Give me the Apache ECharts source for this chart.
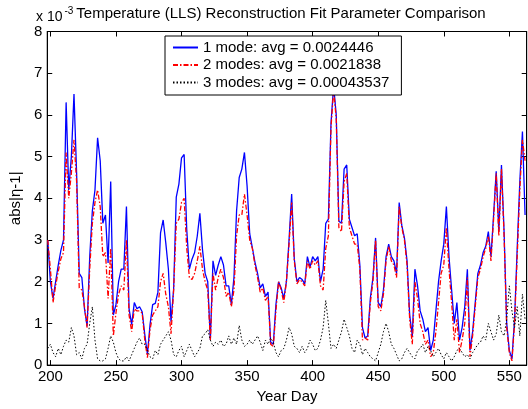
<!DOCTYPE html>
<html>
<head>
<meta charset="utf-8">
<script src="https://cdn.jsdelivr.net/npm/echarts@6/dist/echarts.min.js"></script>
<style>
html,body{margin:0;padding:0;background:#fff;}
#chart{width:528px;height:409px;}
</style>
</head>
<body>
<div id="chart"></div>
<script>
// Year day sample points
const days = [
198,200,202,204,206,208,210,212,214,216,
218,220,222,224,226,228,230,232,234,236,
238,240,242,244,246,248,250,252,254,256,
258,260,262,264,266,268,270,272,274,276,
278,280,282,284,286,288,290,292,294,296,
298,300,302,304,306,308,310,312,314,316,
318,320,322,324,326,328,330,332,334,336,
338,340,342,344,346,348,350,352,354,356,
358,360,362,364,366,368,370,372,374,376,
378,380,382,384,386,388,390,392,394,396,
398,400,402,404,406,408,410,412,414,416,
418,420,422,424,426,428,430,432,434,436,
438,440,442,444,446,448,450,452,454,456,
458,460,462,464,466,468,470,472,474,476,
478,480,482,484,486,488,490,492,494,496,
498,500,502,504,506,508,510,512,514,516,
518,520,522,524,526,528,530,532,534,536,
538,540,542,544,546,548,550,552,554,556,
558,560,562
];
// abs|eta-1| in units of 1e-3
const mode1 = [
3.0,2.0,1.6,2.0,2.4,2.75,3.0,6.3,4.2,5.0,
6.5,4.6,2.2,2.1,1.35,0.93,2.6,3.7,4.2,5.45,
4.9,3.4,3.6,2.45,4.4,1.2,1.45,2.0,2.3,2.3,
3.8,1.35,0.97,1.5,1.35,1.4,1.28,0.73,0.26,0.97,
1.45,1.48,1.75,3.17,3.48,2.93,2.3,1.04,1.83,4.03,
4.34,4.97,5.05,3.24,2.3,2.54,2.7,3.09,3.64,2.77,
2.2,2.0,0.6,2.5,2.15,2.4,2.6,2.4,1.9,1.9,
1.45,2.1,3.7,4.5,4.7,5.1,4.3,3.15,2.82,2.47,
2.2,1.85,1.95,1.65,1.75,0.55,0.5,1.45,2.0,1.85,
1.6,2.0,3.0,4.1,2.55,2.0,2.1,2.05,1.95,2.6,
2.35,2.6,2.5,2.6,2.0,2.3,3.4,3.5,5.8,6.7,
6.0,3.45,3.4,4.7,4.8,3.5,3.3,3.1,3.15,2.4,
0.9,0.65,0.7,1.6,2.1,3.05,1.5,1.4,1.8,2.6,
2.9,2.6,2.5,2.2,3.9,3.35,3.05,2.5,1.2,0.7,
2.3,1.9,1.3,1.1,0.8,0.9,0.35,0.6,1.3,2.0,
2.5,2.9,3.8,2.6,1.8,1.0,1.5,0.6,0.9,1.4,
2.3,0.35,0.8,1.5,2.2,2.4,2.7,2.85,3.2,2.6,
3.6,4.65,3.2,4.8,3.2,1.0,0.35,0.15,1.1,2.8,
4.4,5.6,3.6
];
const mode2 = [
3.0,2.3,1.5,1.9,2.25,2.55,2.7,5.1,4.0,4.6,
5.4,4.4,1.85,1.8,1.4,0.9,2.3,3.4,3.9,4.2,
3.8,2.6,2.7,1.6,2.8,0.7,1.25,1.7,1.9,1.8,
3.0,1.2,0.8,1.35,1.3,1.3,1.25,0.6,0.18,0.85,
1.2,1.3,1.4,2.0,2.2,1.7,1.4,0.75,1.8,3.4,
3.5,3.9,4.0,2.8,2.1,2.05,2.2,2.5,2.85,2.3,
2.0,1.8,0.6,2.2,1.8,2.1,2.3,2.1,1.65,1.75,
1.4,1.8,3.1,3.6,3.6,4.1,3.6,3.0,2.8,2.4,
2.1,1.75,1.85,1.55,1.65,0.5,0.45,1.3,2.0,1.8,
1.5,2.0,2.9,3.9,2.5,1.95,2.05,2.0,1.9,2.5,
2.3,2.5,2.4,2.5,1.9,1.8,2.8,3.1,5.7,6.6,
5.9,3.3,3.2,4.4,4.6,3.3,3.1,2.9,2.9,2.3,
0.6,0.65,0.6,1.5,2.0,3.0,1.4,1.3,1.7,2.5,
2.85,2.5,2.4,2.1,3.8,3.3,3.0,2.4,1.1,0.5,
2.0,1.6,1.0,0.8,0.5,0.6,0.2,0.3,0.8,1.5,
2.2,2.4,3.3,2.3,1.5,0.6,1.1,0.3,0.6,1.0,
2.1,0.2,0.7,1.4,2.1,2.3,2.6,2.8,3.1,2.5,
3.5,4.6,3.1,4.7,3.1,0.9,0.3,0.1,1.0,2.6,
4.2,5.4,4.9
];
const mode3 = [
0.4,0.5,0.3,0.2,0.4,0.25,0.45,0.6,0.55,0.9,
0.7,0.25,0.3,0.15,0.4,0.5,1.0,1.4,0.6,0.15,
0.1,0.1,0.15,0.4,0.7,0.55,0.3,0.15,0.1,0.1,
0.2,0.1,0.25,0.4,0.55,0.65,0.5,0.5,0.35,0.2,
0.15,0.35,0.25,0.5,0.6,0.7,0.8,0.6,0.25,0.2,
0.35,0.45,0.2,0.35,0.5,0.35,0.2,0.3,0.4,0.7,
0.75,0.85,0.6,0.45,0.55,0.5,0.6,0.45,0.5,0.7,
0.5,0.65,0.5,0.95,0.6,0.45,0.5,0.6,0.5,0.6,
0.7,0.55,0.35,0.6,0.5,0.65,0.55,0.3,0.2,0.35,
0.4,0.6,0.9,0.75,0.45,0.4,0.3,0.45,0.3,0.4,
0.6,0.5,0.35,0.4,0.6,0.9,1.55,1.0,0.4,0.5,
0.4,0.6,0.8,1.1,0.9,0.7,0.4,0.3,0.6,0.5,
0.25,0.4,0.3,0.2,0.15,0.1,0.3,0.5,0.8,1.0,
0.8,0.5,0.4,0.25,0.1,0.15,0.3,0.4,0.3,0.2,
0.15,0.35,0.4,0.5,0.3,0.45,0.35,0.2,0.3,0.4,
0.25,0.15,0.3,0.2,0.1,0.2,0.35,0.4,0.3,0.2,
0.25,0.15,0.3,0.4,0.5,0.55,0.7,0.6,1.0,0.8,
0.6,0.75,1.2,0.8,0.7,1.1,1.9,1.3,0.9,1.4,
0.7,1.7,1.1
];
const xTicks = [200,250,300,350,400,450,500,550];
const seriesNames = ['1 mode: avg = 0.0024446','2 modes: avg = 0.0021838','3 modes: avg = 0.00043537'];
const titleText = 'Temperature (LLS) Reconstruction Fit Parameter Comparison';

const FONT = "'Liberation Sans', Arial, Helvetica, sans-serif";
const zip = (xs, ys) => xs.map((x, i) => [x, ys[i]]);

const chart = echarts.init(document.getElementById('chart'), null, {renderer: 'canvas'});
const axisBase = {
  type: 'value', min: 197.6, max: 563.25,
  axisLine: {show: true, onZero: false, lineStyle: {color: '#000', width: 1}},
  splitLine: {show: false}
};
chart.setOption({
  animation: false,
  backgroundColor: '#fff',
  grid: {left: 38.3, right: 1.3, top: 31.5, bottom: 38, show: true, borderColor: '#000', borderWidth: 1, backgroundColor: '#fff'},
  graphic: [
    {type: 'text', x: 281, y: 14, style: {text: titleText, font: '15px ' + FONT, fill: '#000', align: 'center', verticalAlign: 'middle'}},
    {type: 'text', x: 36, y: 15, style: {text: '{a|x 10}{s|-3}', fill: '#000', verticalAlign: 'middle',
      rich: {a: {fontFamily: FONT, fontSize: 14, color: '#000', padding: [4,0,0,0]}, s: {fontFamily: FONT, fontSize: 10, color: '#000', verticalAlign: 'top', padding: [0,0,6,2]}}}}
  ],
  legend: {
    orient: 'vertical', left: 165, top: 36,
    backgroundColor: '#fff', borderColor: '#000', borderWidth: 1, borderRadius: 0,
    padding: [4, 12, 5, 7], itemWidth: 25, itemHeight: 14, itemGap: 2.5,
    itemStyle: {opacity: 0},
    textStyle: {fontFamily: FONT, fontSize: 15, color: '#000'},
    data: seriesNames
  },
  xAxis: [
    Object.assign({}, axisBase, {
      position: 'bottom',
      axisTick: {show: true, inside: true, length: 5, customValues: xTicks, lineStyle: {color: '#000'}},
      axisLabel: {show: true, customValues: xTicks, fontFamily: FONT, fontSize: 15, color: '#000', margin: 4},
      name: 'Year Day', nameLocation: 'middle', nameGap: 17,
      nameTextStyle: {fontFamily: FONT, fontSize: 15, color: '#000'}
    }),
    Object.assign({}, axisBase, {
      position: 'top',
      axisTick: {show: true, inside: true, length: 5, customValues: xTicks, lineStyle: {color: '#000'}},
      axisLabel: {show: false}
    })
  ],
  yAxis: [
    {type: 'value', min: 0, max: 8, interval: 1, position: 'left',
     axisLine: {show: true, lineStyle: {color: '#000'}},
     axisTick: {show: true, inside: true, length: 5, lineStyle: {color: '#000'}},
     axisLabel: {fontFamily: FONT, fontSize: 15, color: '#000', margin: 5},
     splitLine: {show: false},
     name: 'abs|η-1|', nameLocation: 'middle', nameRotate: 90, nameGap: 18,
     nameTextStyle: {fontFamily: FONT, fontSize: 15, color: '#000'}},
    {type: 'value', min: 0, max: 8, interval: 1, position: 'right',
     axisLine: {show: true, lineStyle: {color: '#000'}},
     axisTick: {show: true, inside: true, length: 5, lineStyle: {color: '#000'}},
     axisLabel: {show: false}, splitLine: {show: false}}
  ],
  series: [
    {name: seriesNames[0], type: 'line', data: zip(days, mode1), showSymbol: false, symbol: 'none',
     lineStyle: {color: '#0000ff', width: 1.3}, itemStyle: {color: '#0000ff'}, clip: true, z: 2},
    {name: seriesNames[1], type: 'line', data: zip(days, mode2), showSymbol: false, symbol: 'none',
     lineStyle: {color: '#ff0000', width: 1.3, type: [5, 2, 1.5, 2]}, itemStyle: {color: '#ff0000'}, clip: true, z: 3},
    {name: seriesNames[2], type: 'line', data: zip(days, mode3), showSymbol: false, symbol: 'none',
     lineStyle: {color: '#000000', width: 1, type: [1.5, 2]}, itemStyle: {color: '#000000'}, clip: true, z: 4}
  ]
});
</script>
</body>
</html>
